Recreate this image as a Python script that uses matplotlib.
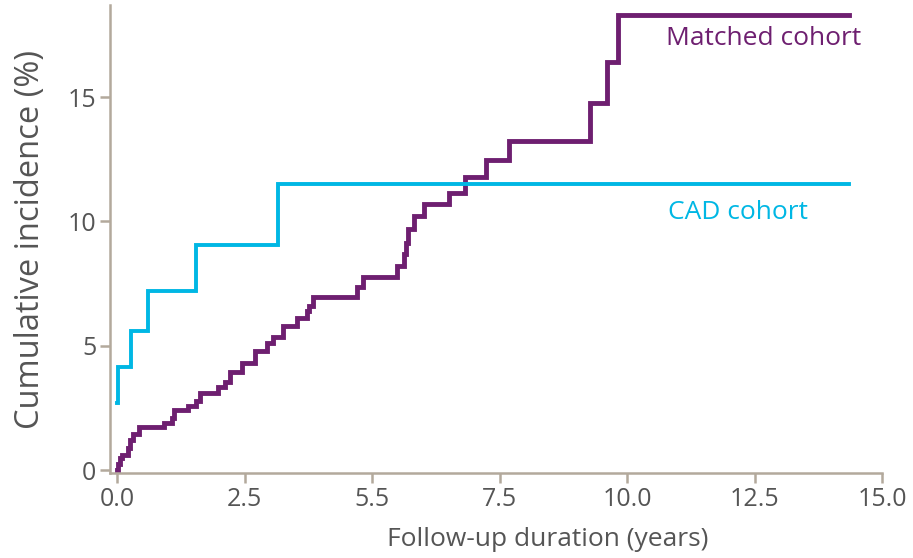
import matplotlib
matplotlib.use("Agg")
import matplotlib.pyplot as plt

plt.rcParams['font.family'] = ['Open Sans', 'DejaVu Sans']

# Cumulative incidence step data (years, %)
matched_t = [0.00, 0.02, 0.06, 0.10, 0.22, 0.26, 0.32, 0.42, 0.92, 1.08,
             1.12, 1.38, 1.55, 1.62, 1.98, 2.12, 2.22, 2.45, 2.70, 2.93,
             3.05, 3.26, 3.52, 3.72, 3.76, 3.84, 4.70, 4.82, 5.49, 5.62,
             5.66, 5.70, 5.82, 6.02, 6.50, 6.82, 7.24, 7.68, 9.28, 9.60,
             9.82, 14.35]
matched_y = [0.0, 0.25, 0.5, 0.6, 0.9, 1.2, 1.45, 1.75, 1.9, 2.1,
             2.4, 2.6, 2.8, 3.1, 3.35, 3.55, 3.95, 4.3, 4.8, 5.1,
             5.35, 5.8, 6.1, 6.4, 6.6, 6.95, 7.35, 7.75, 8.2, 8.7,
             9.15, 9.7, 10.2, 10.7, 11.15, 11.8, 12.45, 13.25, 14.75, 16.4,
             18.3, 18.3]

cad_t = [0.00, 0.01, 0.27, 0.60, 1.54, 3.15, 14.35]
cad_y = [2.7, 4.15, 5.6, 7.2, 9.05, 11.5, 11.5]

x_ticks = [0, 2.5, 5, 7.5, 10, 12.5, 15]
x_ticklabels = ["0.0", "2.5", "5.5", "7.5", "10.0", "12.5", "15.0"]
y_ticks = [0, 5, 10, 15]

purple = "#6e1f70"
cyan = "#00b7e4"
axis_col = "#b3a99c"
text_col = "#555555"

fig = plt.figure(figsize=(9.13, 5.58), dpi=100)
ax = fig.add_axes([0.1205, 0.152, 0.8456, 0.839])

ax.step(matched_t, matched_y, where="post", color=purple, lw=3.5, solid_joinstyle="miter")
ax.step(cad_t, cad_y, where="post", color=cyan, lw=2.8, solid_joinstyle="miter")

ax.text(14.6, 17.35, "Matched cohort", color=purple, fontsize=19, ha="right", va="center")
ax.text(13.55, 10.35, "CAD cohort", color=cyan, fontsize=19, ha="right", va="center")

ax.set_xlim(-0.14, 15)
ax.set_ylim(-0.12, 18.7)
ax.set_xticks(x_ticks)
ax.set_xticklabels(x_ticklabels)
ax.set_yticks(y_ticks)

for side in ["top", "right"]:
    ax.spines[side].set_visible(False)
for side in ["left", "bottom"]:
    ax.spines[side].set_color(axis_col)
    ax.spines[side].set_linewidth(1.8)

ax.tick_params(axis="both", colors=axis_col, length=7, width=1.8,
               labelsize=18, labelcolor=text_col, pad=3)

ax.set_xlabel("Follow-up duration (years)", fontsize=19, color=text_col, labelpad=4)
ax.xaxis.set_label_coords(0.567, -0.115)
ax.set_ylabel("Cumulative incidence (%)", fontsize=23.5, color=text_col)
ax.yaxis.set_label_coords(-0.082, 0.5)

fig.savefig("out.png", dpi=100)
